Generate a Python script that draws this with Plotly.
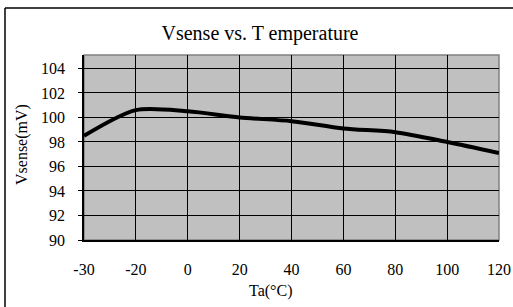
import plotly.graph_objects as go

temps = ["-30", "-20", "0", "20", "40", "60", "80", "100", "120"]
vsense = [98.5, 100.6, 100.5, 100.0, 99.7, 99.1, 98.8, 98.0, 97.1]
y_ticks = [90, 92, 94, 96, 98, 100, 102, 104]

FONT = "Liberation Serif, Times New Roman, serif"

fig = go.Figure()
fig.add_trace(go.Scatter(
    x=temps, y=vsense, mode="lines",
    line=dict(color="black", width=4, shape="spline", smoothing=0.8),
    hoverinfo="skip", showlegend=False,
))

fig.update_layout(
    width=513, height=307, autosize=False,
    margin=dict(l=84, r=14, t=55, b=67),
    paper_bgcolor="white",
    plot_bgcolor="#C0C0C0",
    font=dict(family=FONT, size=16, color="black"),
    title=dict(text="Vsense vs. T emperature", x=260 / 513, xref="container", xanchor="center",
               y=1 - 33 / 307, yref="container", yanchor="middle",
               font=dict(family=FONT, size=20, color="black")),
    showlegend=False,
)

fig.update_xaxes(
    type="category", categoryorder="array", categoryarray=temps,
    range=[0, len(temps) - 1], automargin=False,
    showgrid=True, gridcolor="black", gridwidth=1,
    showline=True, linecolor="black", linewidth=1.5,
    ticks="", ticklabelstandoff=14,
    tickfont=dict(family=FONT, size=16, color="black"),
    zeroline=False, mirror=False,
)
fig.update_yaxes(
    range=[90, 105.1], tickvals=y_ticks, automargin=False,
    showgrid=True, gridcolor="black", gridwidth=1,
    showline=True, linecolor="black", linewidth=1.5,
    ticks="outside", ticklen=4, tickcolor="black", ticklabelstandoff=10,
    tickfont=dict(family=FONT, size=16, color="black"),
    zeroline=False,
)

# right/top plot border (gray)
fig.add_shape(type="rect", xref="paper", yref="paper", x0=0, x1=1, y0=0, y1=1,
              line=dict(color="#808080", width=1.5), layer="below")

# outer chart frame (left and top edges visible)
fig.add_shape(type="line", xref="paper", yref="paper",
              x0=-(84 - 5) / 415, x1=-(84 - 5) / 415, y0=-(307 - 240) / 185, y1=(240 - 8) / 185,
              line=dict(color="black", width=1.5))
fig.add_shape(type="line", xref="paper", yref="paper",
              x0=-(84 - 5) / 415, x1=(513 - 84) / 415, y0=(240 - 8) / 185, y1=(240 - 8) / 185,
              line=dict(color="black", width=1.5))

fig.add_annotation(text="Ta(°C)", xref="paper", yref="paper",
                   x=(270 - 84) / 415, y=-(291 - 240) / 185,
                   xanchor="center", yanchor="middle", showarrow=False,
                   font=dict(family=FONT, size=16, color="black"))
fig.add_annotation(text="Vsense(mV)", xref="paper", yref="paper",
                   x=-(84 - 22) / 415, y=(240 - 145) / 185, textangle=-90,
                   xanchor="center", yanchor="middle", showarrow=False,
                   font=dict(family=FONT, size=16, color="black"))

post = (
    "document.documentElement.style.overflow='hidden';"
    "document.documentElement.style.margin='0';"
    "document.body.style.margin='0';document.body.style.padding='0';"
    "document.body.style.overflow='hidden';"
    "var gd=document.getElementById('{plot_id}');"
    "Plotly.relayout(gd,{width:513,height:307});"
)
fig.write_html("out.html", config={"displayModeBar": False},
               default_width="513px", default_height="307px", post_script=post)
